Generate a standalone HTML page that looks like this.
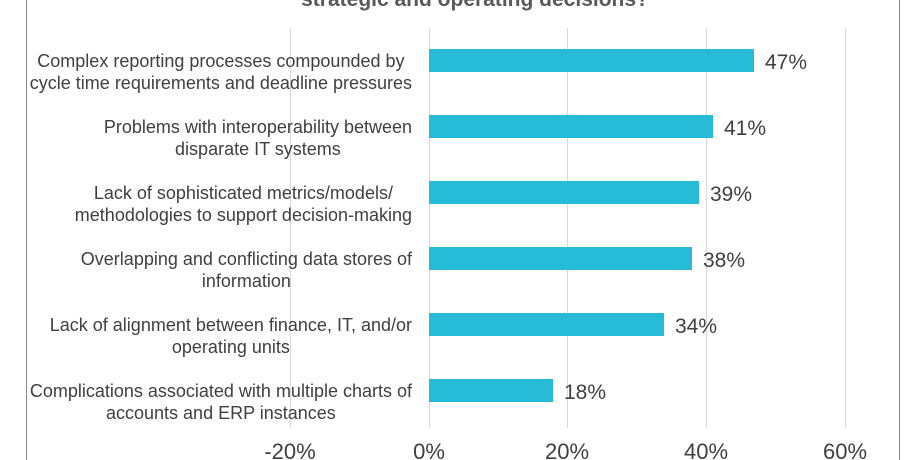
<!DOCTYPE html>
<html><head><style>
body{margin:0;background:#fff;position:relative;width:915px;height:460px;overflow:hidden;}
svg{display:block;font-family:"Liberation Sans",Arial,sans-serif;}
.l{position:absolute;right:503px;text-align:center;white-space:nowrap;font-family:"Liberation Sans",Arial,sans-serif;font-size:18px;line-height:22px;color:#404040;}
</style></head><body>
<svg width="915" height="460" xmlns="http://www.w3.org/2000/svg">
<rect x="0" y="0" width="915" height="460" fill="#fff"/>
<line x1="26.5" y1="0" x2="26.5" y2="460" stroke="#8a8a8a" stroke-width="1"/>
<line x1="899.5" y1="0" x2="899.5" y2="460" stroke="#8a8a8a" stroke-width="1"/>
<text x="475" y="6" text-anchor="middle" font-size="21" font-weight="bold" fill="#595959">strategic and operating decisions?</text>
<g stroke="#d9d9d9" stroke-width="1">
<line x1="290.5" y1="28" x2="290.5" y2="428"/>
<line x1="429.5" y1="28" x2="429.5" y2="428"/>
<line x1="567.5" y1="28" x2="567.5" y2="428"/>
<line x1="706.5" y1="28" x2="706.5" y2="428"/>
<line x1="845.5" y1="28" x2="845.5" y2="428"/>
</g>
<g fill="#26bcd7">
<rect x="429" y="49" width="325" height="23"/>
<rect x="429" y="115" width="284" height="23"/>
<rect x="429" y="181" width="270" height="23"/>
<rect x="429" y="247" width="263" height="23"/>
<rect x="429" y="313" width="235" height="23"/>
<rect x="429" y="379" width="124" height="23"/>
</g>
<g font-size="21" fill="#404040">
<text x="765" y="69">47%</text>
<text x="724" y="135">41%</text>
<text x="710" y="201">39%</text>
<text x="703" y="267">38%</text>
<text x="675" y="333">34%</text>
<text x="564" y="399">18%</text>
</g>
<g font-size="22" fill="#404040" text-anchor="middle">
<text x="290" y="459">-20%</text>
<text x="429" y="459">0%</text>
<text x="567" y="459">20%</text>
<text x="706" y="459">40%</text>
<text x="845" y="459">60%</text>
</g>
</svg>
<div class="l" style="top:50px">Complex reporting processes compounded by<br>cycle time requirements and deadline pressures</div>
<div class="l" style="top:116px">Problems with interoperability between<br>disparate IT systems</div>
<div class="l" style="top:182px">Lack of sophisticated metrics/models/<br>methodologies to support decision-making</div>
<div class="l" style="top:248px">Overlapping and conflicting data stores of<br>information</div>
<div class="l" style="top:314px">Lack of alignment between finance, IT, and/or<br>operating units</div>
<div class="l" style="top:380px">Complications associated with multiple charts of<br>accounts and ERP instances</div>
</body></html>
